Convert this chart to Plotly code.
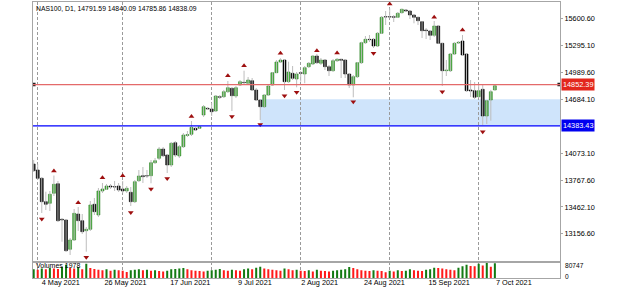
import plotly.graph_objects as go
import pandas as pd

# ---------------- data ----------------
dates = pd.bdate_range("2021-04-30", "2021-10-07")

opens = [13950.5, 13882.3, 13788.0, 13522.3, 13504.2, 13617.7, 13726.7, 13322.4, 13314.5, 12981.7,
         13087.3, 13382.6, 13306.5, 13192.9, 13208.8, 13492.8, 13371.2, 13643.8, 13663.1, 13700.6,
         13692.6, 13700.6, 13666.5, 13643.8, 13629.1, 13522.3, 13760.8, 13817.6, 13817.6, 13817.6,
         13965.2, 14015.2, 14120.8, 14052.7, 13939.1, 14192.4, 14041.3, 14146.9, 14274.1, 14287.8,
         14355.9, 14355.9, 14507.0, 14583.0, 14575.1, 14552.4, 14714.8, 14714.8, 14771.6, 14810.2,
         14722.7, 14847.7, 14878.3, 14867.0, 14896.5, 14790.9, 14677.3, 14601.2, 14734.1, 14847.7,
         14987.4, 15108.9, 15131.6, 14885.1, 14980.5, 14915.8, 14987.4, 14972.6, 15055.5, 15086.2,
         15177.0, 15094.1, 15131.6, 15055.5, 15010.1, 15123.6, 15139.5, 15131.6, 14972.6, 14847.7,
         14941.9, 15100.9, 15328.1, 15366.7, 15366.7, 15290.6, 15434.8, 15623.3, 15623.3, 15623.3,
         15616.5, 15668.8, 15699.4, 15688.1, 15642.6, 15616.5, 15566.6, 15472.3, 15460.9, 15412.1,
         15517.7, 15321.2, 15010.1, 15010.1, 15199.7, 15324.6, 15347.4, 15199.7, 14790.9, 14783.0,
         14714.8, 14798.8, 14495.6, 14677.3, 14791.59]
highs = [13995.9, 13950.5, 13802.8, 13635.9, 13643.8, 13819.8, 13757.4, 13337.2, 13325.8, 13110.0,
         13439.4, 13462.1, 13382.6, 13235.0, 13530.2, 13564.3, 13677.9, 13734.7, 13723.3, 13723.3,
         13757.4, 13734.7, 13757.4, 13700.6, 13689.2, 13768.7, 13882.3, 13916.4, 13882.3, 13995.9,
         14018.6, 14143.5, 14143.5, 14064.0, 14200.3, 14211.7, 14166.2, 14302.5, 14325.2, 14438.8,
         14370.7, 14382.0, 14620.5, 14597.8, 14643.2, 14734.1, 14734.1, 14791.9, 14893.1, 14825.0,
         14836.3, 14904.4, 15010.1, 14938.5, 14927.2, 14813.6, 14688.7, 14745.4, 14847.7, 14995.3,
         15131.6, 15150.9, 15139.5, 15112.3, 15063.4, 14995.3, 15006.7, 15063.4, 15108.9, 15182.7,
         15199.7, 15154.3, 15142.9, 15074.8, 15142.9, 15154.3, 15142.9, 15142.9, 14983.9, 14961.2,
         15108.9, 15339.4, 15404.1, 15415.5, 15381.4, 15449.6, 15631.3, 15688.1, 15718.7, 15642.6,
         15676.7, 15714.2, 15705.1, 15693.7, 15654.0, 15619.9, 15574.5, 15494.9, 15472.3, 15574.5,
         15529.1, 15324.6, 15131.6, 15211.1, 15336.0, 15347.4, 15415.5, 15211.1, 14904.4, 14881.7,
         14847.7, 14847.7, 14677.3, 14791.9, 14840.09]
lows = [13859.6, 13768.7, 13394.0, 13428.0, 13416.7, 13587.0, 13291.7, 13068.0, 12951.0, 12916.9,
        13076.0, 13189.5, 13155.5, 12954.4, 13189.5, 13371.2, 13348.5, 13621.1, 13655.2, 13666.5,
        13643.8, 13632.5, 13621.1, 13621.1, 13473.5, 13507.5, 13746.0, 13734.7, 13791.5, 13731.3,
        13950.5, 13995.9, 14029.9, 13848.2, 13916.4, 14029.9, 14018.6, 14132.2, 14257.1, 14268.4,
        14325.2, 14347.9, 14484.2, 14563.7, 14495.6, 14541.0, 14688.7, 14700.0, 14756.8, 14552.4,
        14700.0, 14836.3, 14859.0, 14847.7, 14779.5, 14666.0, 14450.2, 14586.4, 14722.7, 14836.3,
        14984.0, 15097.5, 14790.9, 14870.4, 14904.4, 14821.5, 14885.1, 14867.0, 15040.7, 15074.8,
        15086.2, 15074.8, 15018.0, 14949.9, 14995.3, 15108.9, 14927.2, 14927.2, 14813.6, 14708.0,
        14927.2, 15086.2, 15313.3, 15336.0, 15267.9, 15279.2, 15426.9, 15529.1, 15608.6, 15563.1,
        15608.6, 15659.7, 15676.7, 15597.2, 15548.4, 15529.1, 15381.4, 15370.1, 15358.7, 15392.8,
        15313.3, 14836.3, 14949.9, 14995.3, 15188.4, 15313.3, 15177.0, 14768.2, 14711.4, 14688.7,
        14700.0, 14393.4, 14404.7, 14442.2, 14785.86]
closes = [13874.4, 13788.0, 13522.3, 13492.8, 13606.4, 13720.0, 13306.5, 13314.5, 12965.8, 13087.3,
          13390.5, 13306.5, 13181.6, 13208.8, 13484.8, 13408.7, 13643.8, 13666.5, 13700.6, 13689.2,
          13689.2, 13655.2, 13643.8, 13674.5, 13522.3, 13749.4, 13814.2, 13806.2, 13814.2, 13965.2,
          13987.9, 14120.8, 14044.7, 13939.1, 14185.5, 14052.7, 14146.9, 14279.8, 14285.5, 14367.3,
          14336.6, 14374.1, 14601.2, 14575.1, 14544.4, 14722.7, 14707.9, 14771.6, 14817.0, 14726.1,
          14817.0, 14885.1, 14873.8, 14904.4, 14790.9, 14677.3, 14601.2, 14734.1, 14836.3, 14987.4,
          15108.9, 15131.6, 14885.1, 14995.3, 14923.8, 14972.6, 14980.5, 15044.1, 15094.1, 15177.0,
          15100.9, 15131.6, 15055.5, 15010.1, 15123.6, 15139.5, 15128.2, 14972.6, 14847.7, 14941.9,
          15100.9, 15328.1, 15366.7, 15362.1, 15290.6, 15434.8, 15616.5, 15619.9, 15619.9, 15616.5,
          15661.9, 15707.4, 15688.1, 15642.6, 15616.5, 15577.9, 15464.3, 15464.3, 15412.1, 15517.7,
          15321.2, 15010.1, 15018.0, 15199.7, 15321.2, 15332.6, 15188.4, 14783.0, 14779.5, 14708.0,
          14783.0, 14495.6, 14669.3, 14771.6, 14838.09]
volumes = [46000, 44000, 51000, 46000, 53000, 51000, 48000, 58000, 70000, 55000,
           51000, 58000, 46000, 76000, 53000, 48000, 44000, 41000, 46000, 39000,
           44000, 41000, 39000, 32000, 41000, 44000, 46000, 41000, 44000, 39000,
           41000, 37000, 35000, 39000, 46000, 48000, 51000, 53000, 46000, 41000,
           39000, 37000, 35000, 39000, 41000, 44000, 48000, 41000, 39000, 44000,
           41000, 39000, 46000, 51000, 46000, 55000, 60000, 51000, 46000, 44000,
           41000, 39000, 51000, 46000, 41000, 44000, 39000, 37000, 41000, 35000,
           44000, 39000, 37000, 35000, 39000, 41000, 44000, 46000, 58000, 53000,
           46000, 41000, 39000, 37000, 41000, 39000, 37000, 30000, 39000, 35000,
           41000, 37000, 39000, 46000, 41000, 39000, 37000, 44000, 46000, 55000,
           53000, 51000, 46000, 44000, 41000, 55000, 62000, 70000, 64000, 62000,
           76000, 66000, 80000, 60000, 78000]

fractal_up_idx = [5, 11, 17, 22, 39, 48, 52, 61, 70, 75, 88, 99, 106]
fractal_up_price = [13871.0, 13511.0, 13794.9, 13817.6, 14489.9, 14953.3, 15066.8, 15207.7,
                    15237.2, 15211.1, 15767.6, 15616.5, 15472.3]
fractal_dn_idx = [2, 13, 24, 29, 33, 49, 56, 62, 65, 79, 84, 101, 111]
fractal_dn_price = [13325.8, 12890.8, 13399.6, 13666.5, 13785.8, 14489.9, 14399.0, 14726.1,
                    14764.8, 14658.0, 15207.7, 14771.6, 14317.3]

date_labels = ["2021-05-04", "2021-05-26", "2021-06-17", "2021-07-09",
               "2021-08-02", "2021-08-24", "2021-09-15", "2021-10-07"]
price_ticks = [15600.60, 15295.10, 14989.60, 14684.10, 14073.10, 13767.60, 13462.10, 13156.60]
grid_idx = [1, 22, 44, 66, 88, 110]

level_red = 14852.39
level_blue = 14383.43
zone_top = 14686.0
zone_start = "2021-07-19"
volume_max = 80747
volume_label = "Volumes 1978"
symbol_title = "NAS100, D1"

# ---------------- derived ----------------
n = len(dates)
xi = list(range(n))
pos = {d.strftime("%Y-%m-%d"): i for i, d in enumerate(dates)}
tick_idx = [pos[d] for d in date_labels]
tick_txt = [f"{pd.Timestamp(d).day} {pd.Timestamp(d).strftime('%b %Y')}" for d in date_labels]

x_range = [-0.17, 130.1]
y_range = [12831.8, 15790.3]
vol_dom = 0.0562

wx, wy = [], []
for i in range(n):
    wx += [i, i, None]
    wy += [lows[i], highs[i], None]

bull = [i for i in range(n) if closes[i] >= opens[i]]
bear = [i for i in range(n) if closes[i] < opens[i]]

vol_col = ["#137a13"] + ["#137a13" if volumes[i] > volumes[i - 1] else "#ff1a1a" for i in range(1, n)]

fig = go.Figure()

fig.add_trace(go.Scatter(x=wx, y=wy, mode="lines", line=dict(color="#bdbdbd", width=1),
                         xaxis="x2", yaxis="y", hoverinfo="skip", showlegend=False))
fig.add_trace(go.Bar(x=[xi[i] for i in bull],
                     y=[closes[i] - opens[i] for i in bull],
                     base=[opens[i] for i in bull], width=0.72,
                     marker=dict(color="#45b23a", line=dict(color="#2a7d22", width=0.6)),
                     xaxis="x2", yaxis="y", showlegend=False))
fig.add_trace(go.Bar(x=[xi[i] for i in bear],
                     y=[opens[i] - closes[i] for i in bear],
                     base=[closes[i] for i in bear], width=0.72,
                     marker=dict(color="#000000", line=dict(color="#000000", width=0.6)),
                     xaxis="x2", yaxis="y", showlegend=False))
fig.add_trace(go.Scatter(x=fractal_up_idx, y=fractal_up_price, mode="markers",
                         marker=dict(symbol="triangle-up", size=5, color="#9e0f0f"),
                         xaxis="x2", yaxis="y", showlegend=False))
fig.add_trace(go.Scatter(x=fractal_dn_idx, y=fractal_dn_price, mode="markers",
                         marker=dict(symbol="triangle-down", size=5, color="#9e0f0f"),
                         xaxis="x2", yaxis="y", showlegend=False))
# anchor handles of the selected horizontal line at both chart edges
fig.add_trace(go.Scatter(x=[x_range[0] + 0.2, x_range[1] - 0.2], y=[level_red, level_red],
                         mode="markers", marker=dict(symbol="square", size=3.5, color="#202020"),
                         xaxis="x2", yaxis="y", showlegend=False, hoverinfo="skip"))
fig.add_trace(go.Bar(x=xi, y=volumes, width=0.5, marker=dict(color=vol_col, line=dict(width=0)),
                     xaxis="x", yaxis="y2", showlegend=False))

font = "Liberation Sans, Arial, sans-serif"
border = "#a6a6a6"
minor_grid = dict(tickvals=grid_idx, showgrid=True, gridcolor="#9a9a9a", griddash="3px,2px",
                  gridwidth=1, ticks="")

fig.update_layout(
    width=625, height=289,
    margin=dict(l=33, r=65, t=2, b=11, autoexpand=False),
    paper_bgcolor="white", plot_bgcolor="white",
    font=dict(family=font, size=7.3, color="black"),
    barmode="overlay", showlegend=False,
    xaxis=dict(domain=[0, 1], anchor="y2", range=x_range, tickvals=tick_idx, ticktext=tick_txt,
               ticks="", ticklabelshift=19, ticklabelstandoff=-3, showgrid=False, zeroline=False,
               showline=True, linecolor=border, linewidth=1, mirror=True, minor=minor_grid),
    xaxis2=dict(domain=[0, 1], anchor="y", matches="x", range=x_range, showticklabels=False,
                ticks="", showgrid=False, zeroline=False, showline=True, linecolor=border,
                linewidth=1, mirror=True, minor=minor_grid),
    yaxis=dict(domain=[vol_dom, 1], anchor="x2", side="right", range=y_range,
               tickvals=price_ticks, ticktext=[f"{v:.2f}" for v in price_ticks],
               ticks="outside", ticklen=2, tickcolor=border, showgrid=False, zeroline=False,
               showline=True, linecolor=border, linewidth=1, mirror=True),
    yaxis2=dict(domain=[0, vol_dom], anchor="x", side="right", range=[0, volume_max * 1.02],
                showticklabels=False, ticks="", showgrid=False, zeroline=False,
                showline=True, linecolor=border, linewidth=1, mirror=True),
)

fig.add_shape(type="rect", xref="x2", yref="y", x0=pos[zone_start], x1=x_range[1],
              y0=level_blue, y1=zone_top, fillcolor="#cfe4fb", line=dict(width=0), layer="below")
fig.add_shape(type="line", xref="paper", yref="y", x0=0, x1=1, y0=level_red, y1=level_red,
              line=dict(color="#e46a6a", width=1.4))
fig.add_shape(type="line", xref="paper", yref="y", x0=0, x1=1, y0=level_blue, y1=level_blue,
              line=dict(color="#0000ff", width=1.4))

fig.add_annotation(xref="paper", yref="y", x=1, y=level_red, text=f"{level_red:.2f}",
                   xanchor="left", yanchor="middle", xshift=1, showarrow=False,
                   bgcolor="#e3261c", font=dict(color="white", size=7.3, family=font), borderpad=1)
fig.add_annotation(xref="paper", yref="y", x=1, y=level_blue, text=f"{level_blue:.2f}",
                   xanchor="left", yanchor="middle", xshift=1, showarrow=False,
                   bgcolor="#0000f0", font=dict(color="white", size=7.3, family=font), borderpad=1)

fig.add_annotation(xref="paper", yref="paper", x=0, y=1, xanchor="left", yanchor="top",
                   xshift=1, yshift=-1, showarrow=False,
                   text=f"{symbol_title}, {opens[-1]:.2f} {highs[-1]:.2f} {lows[-1]:.2f} {closes[-1]:.2f}",
                   font=dict(size=6.8, family=font, color="black"))
fig.add_annotation(xref="paper", yref="paper", x=0, y=vol_dom, xanchor="left", yanchor="top",
                   xshift=1, yshift=2, showarrow=False, text=volume_label,
                   font=dict(size=7, family=font, color="black"))
fig.add_annotation(xref="paper", yref="paper", x=1, y=0.0435, xanchor="left", yanchor="middle",
                   xshift=3, showarrow=False, text=f"{volume_max}",
                   font=dict(size=6.6, family=font, color="black"))
fig.add_annotation(xref="paper", yref="paper", x=1, y=0.006, xanchor="left", yanchor="middle",
                   xshift=3, showarrow=False, text="0",
                   font=dict(size=6.6, family=font, color="black"))

fig.write_html("out.html")
